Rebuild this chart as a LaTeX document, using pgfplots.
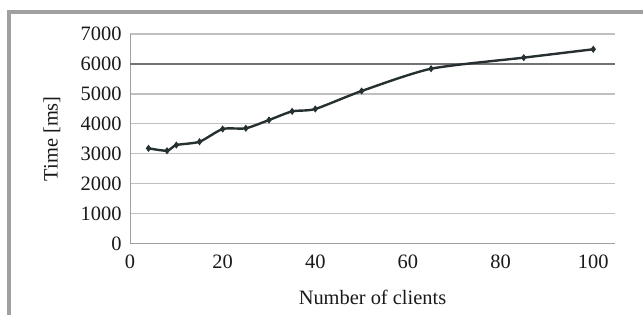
\documentclass[border=0pt]{standalone}
\usepackage{pgfplots}
\pgfplotsset{compat=1.18}
\usepackage{fontspec}
\setmainfont{Liberation Serif}
\definecolor{lineclr}{RGB}{38,48,48}
\definecolor{gridclr}{RGB}{192,192,192}
\definecolor{frameclr}{RGB}{160,160,160}
\newcommand{\cf}{\rmfamily\fontsize{20.5}{24}\selectfont}
\begin{document}
\begin{tikzpicture}
\path[use as bounding box] (0,0) rectangle (643bp,315bp);
\draw[frameclr, line width=4bp] (9bp,0) -- (9bp,302.5bp) -- (643bp,302.5bp);
\begin{axis}[
  at={(130bp,71.5bp)}, anchor=south west,
  width=485bp, height=209.5bp, scale only axis,
  xmin=0, xmax=104.7, ymin=0, ymax=7000,
  xtick={0,20,40,60,80,100},
  ytick={0,1000,2000,3000,4000,5000,6000,7000},
  axis x line*=bottom, axis y line*=left,
  axis line style={draw=frameclr, line width=1bp},
  every axis x line/.append style={-}, every axis y line/.append style={-},
  major tick length=0pt,
  ymajorgrids, major grid style={gridclr, line width=1.3bp},
  /pgf/number format/assume math mode=true,
  /pgf/number format/1000 sep={},
  tick label style={font=\cf, text=black!90},
  xticklabel style={yshift=-8bp},
  yticklabel style={xshift=-5bp},
  xlabel={Number of clients},
  ylabel={Time [ms]},
  every axis x label/.style={at={(axis description cs:0.5,-0.255)}, anchor=center, font=\cf, text=black!90},
  every axis y label/.style={at={(axis description cs:-0.161,0.5)}, rotate=90, anchor=center, font=\cf, text=black!90},
  clip=false,
]
\draw[black!55, line width=1.2bp] (axis cs:0,6000) -- (axis cs:104.7,6000);
\addplot[lineclr, line width=2.4bp, smooth, tension=0.4, mark=diamond*, mark size=2.8bp, mark options={solid, fill=lineclr, line width=1bp}]
coordinates {
(4,3180) (8,3100) (10,3290) (15,3400) (20,3825) (25,3850) (30,4125) (35,4415) (40,4495) (50,5095) (65,5840) (85,6210) (100,6490)
};
\end{axis}
\end{tikzpicture}
\end{document}
